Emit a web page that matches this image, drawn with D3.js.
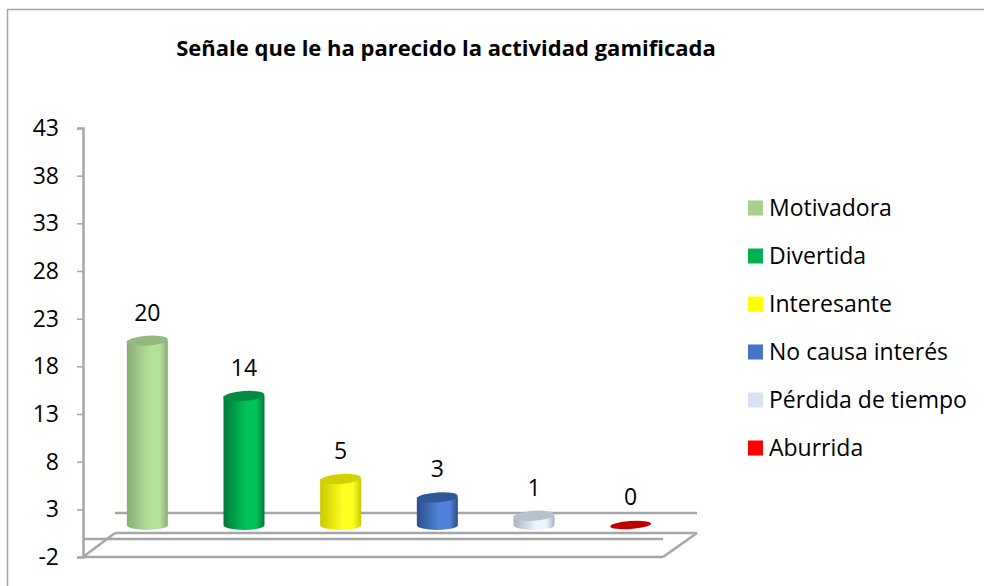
<!DOCTYPE html>
<html>
<head>
<meta charset="utf-8">
<script src="https://cdn.jsdelivr.net/npm/d3@7"></script>
<style>
  body { margin: 0; background: #fff; }
  text { font-family: "Open Sans", "Noto Sans", sans-serif; fill: #000; }
</style>
</head>
<body>
<div id="chart"></div>
<script>
// data
const categories = ["Motivadora", "Divertida", "Interesante", "No causa interés", "Pérdida de tiempo", "Aburrida"];
const values = [20, 14, 5, 3, 1, 0];
const tickValues = [-2, 3, 8, 13, 18, 23, 28, 33, 38, 43];
const legendColors = ["#a9d18e", "#00b050", "#ffff00", "#4472c4", "#dae3f3", "#ff0000"];
// cylinder shading: [edge, light, top]
const barShades = [
    ["#89ad73", "#b5e09b", "#93b97c"],
    ["#007a37", "#00c25a", "#008c40"],
    ["#c9c900", "#ffff20", "#d2d200"],
    ["#2c4f8c", "#4f82d8", "#30579c"],
    ["#a9b4c2", "#eef4fc", "#b7c2d0"],
    ["#c00000", "#c00000", "#c00000"]
];

const width = 984, height = 586;
const svg = d3.select("#chart").append("svg")
    .attr("width", width)
    .attr("height", height);

// frame
svg.append("path")
    .attr("d", "M7.5,586 V9.5 H984")
    .attr("fill", "none")
    .attr("stroke", "#a6a6a6")
    .attr("stroke-width", 1.5);

svg.append("text")
    .attr("x", 446)
    .attr("y", 56)
    .attr("text-anchor", "middle")
    .style("font-weight", "bold")
    .style("font-size", "22px")
    .text("Señale que le ha parecido la actividad gamificada");

// scales
const y = d3.scaleLinear().domain([-2, 43]).range([557, 128]);
// bars stand further back in the 3D box, so they use the back-plane scale
const yBack = d3.scaleLinear().domain([0, 43]).range([525, 129]);
const x = d3.scaleBand().domain(categories).range([99, 679]).padding(0);
const barW = 41, rx = barW / 2, ry = 5;

// axis
const axis = d3.axisLeft(y).tickValues(tickValues).tickSize(6).tickPadding(18)
    .tickFormat(d => String(d));
const ga = svg.append("g").attr("transform", "translate(83,0)").call(axis);
ga.select(".domain").attr("stroke", "#a6a6a6").attr("stroke-width", 2.5);
ga.selectAll(".tick line").attr("stroke", "#a6a6a6").attr("stroke-width", 1.5);
ga.selectAll(".tick text")
    .style("font-size", "23px")
    .style("font-family", "'Open Sans', 'Noto Sans', sans-serif")
    .attr("fill", "#000");

// 3D floor
const grid = "#a6a6a6";
const floorLines = [
    [[115, 513], [697, 513]],
    [[115, 533], [697, 533]],
    [[83, 539], [663, 539]],
    [[83, 557], [663, 557]],
    [[83, 557], [115, 533]],
    [[663, 557], [697, 533]]
];
svg.append("g").selectAll("line")
    .data(floorLines)
    .enter().append("line")
    .attr("x1", d => d[0][0]).attr("y1", d => d[0][1])
    .attr("x2", d => d[1][0]).attr("y2", d => d[1][1])
    .attr("stroke", grid)
    .attr("stroke-width", 2.5);

// gradients
const defs = svg.append("defs");
barShades.forEach((s, i) => {
    const g = defs.append("linearGradient")
        .attr("id", "cyl" + i)
        .attr("x1", "0%").attr("x2", "100%").attr("y1", "0%").attr("y2", "0%");
    g.append("stop").attr("offset", "0%").attr("stop-color", s[0]);
    g.append("stop").attr("offset", "55%").attr("stop-color", s[1]);
    g.append("stop").attr("offset", "80%").attr("stop-color", s[1]);
    g.append("stop").attr("offset", "100%").attr("stop-color", s[0]);
});

const data = categories.map((c, i) => ({ cat: c, value: values[i], i: i }));

const bars = svg.append("g").selectAll(".bar")
    .data(data)
    .enter().append("g")
    .attr("class", "bar");

bars.filter(d => d.value > 0).append("path")
    .attr("d", d => {
        const cx = x(d.cat) + x.bandwidth() / 2;
        const x0 = cx - rx, x1 = cx + rx;
        const yt = yBack(d.value), yb = yBack(0);
        return `M${x0},${yt} L${x0},${yb} A${rx},${ry} 0 0 0 ${x1},${yb} L${x1},${yt} Z`;
    })
    .attr("fill", d => `url(#cyl${d.i})`);

bars.append("ellipse")
    .attr("cx", d => x(d.cat) + x.bandwidth() / 2)
    .attr("cy", d => yBack(d.value))
    .attr("rx", rx)
    .attr("ry", d => d.value > 0 ? ry : 4)
    .attr("transform", d => `rotate(-4 ${x(d.cat) + x.bandwidth() / 2} ${yBack(d.value)})`)
    .attr("fill", d => barShades[d.i][2]);

bars.append("text")
    .attr("x", d => x(d.cat) + x.bandwidth() / 2)
    .attr("y", d => yBack(d.value) - 20)
    .attr("text-anchor", "middle")
    .style("font-size", "23px")
    .text(d => d.value);

// legend
const legend = svg.append("g").selectAll(".leg")
    .data(data)
    .enter().append("g")
    .attr("transform", (d, i) => `translate(748,${208 + i * 48})`);

legend.append("rect")
    .attr("x", 0).attr("y", -7.5)
    .attr("width", 15).attr("height", 15)
    .attr("fill", d => legendColors[d.i]);

legend.append("text")
    .attr("x", 21)
    .attr("y", 8)
    .style("font-size", "23px")
    .text(d => d.cat);
</script>
</body>
</html>
